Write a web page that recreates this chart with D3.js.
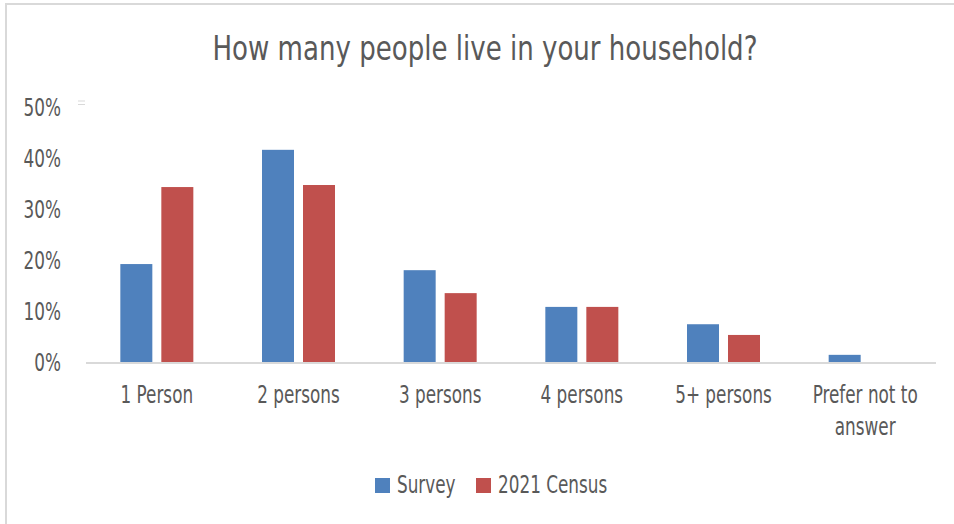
<!DOCTYPE html>
<html>
<head>
<meta charset="utf-8">
<script src="https://cdn.jsdelivr.net/npm/d3@7"></script>
<style>
  html, body { margin: 0; padding: 0; background: #fff; }
  svg text { font-family: "DejaVu Sans Condensed", "DejaVu Sans", sans-serif; fill: #595959; }
</style>
</head>
<body>
<svg id="chart" width="954" height="524"></svg>
<script>
const categories = ["1 Person", "2 persons", "3 persons", "4 persons", "5+ persons", "Prefer not to answer"];
const seriesNames = ["Survey", "2021 Census"];
const surveyValues = [0.194, 0.418, 0.182, 0.110, 0.076, 0.016];
const censusValues = [0.345, 0.349, 0.137, 0.110, 0.055, null];
const yTicks = [0, 0.1, 0.2, 0.3, 0.4, 0.5];
const colors = ["#4F81BD", "#C0504D"];
const title = "How many people live in your household?";

const svg = d3.select("#chart");
const SX = 0.78; // horizontal squeeze to mimic condensed typeface

// chart border
svg.append("rect").attr("x", 6).attr("y", 4).attr("width", 1200).attr("height", 1200)
  .attr("fill", "none").attr("stroke", "#d9d9d9").attr("stroke-width", 2);

const plot = { left: 86, right: 936, top: 108, bottom: 363 };

const x = d3.scaleBand().domain(categories).range([plot.left, plot.right]);
const y = d3.scaleLinear().domain([0, 0.5]).range([plot.bottom, plot.top]);
const barW = 32, barGap = 9;
const xSub = d3.scaleOrdinal().domain(seriesNames).range([-(barW + barGap / 2), barGap / 2]);

const data = categories.map((c, i) => ({ cat: c, values: [surveyValues[i], censusValues[i]] }));

// title
svg.append("text").attr("x", 485).attr("y", 60).attr("text-anchor", "middle")
  .attr("textLength", 545).attr("lengthAdjust", "spacingAndGlyphs")
  .style("font-size", "34px").text(title);

// bars
const g = svg.append("g");
data.forEach(d => {
  d.values.forEach((v, si) => {
    if (v == null) return;
    g.append("rect")
      .attr("x", x(d.cat) + x.bandwidth() / 2 + xSub(seriesNames[si]))
      .attr("y", y(v))
      .attr("width", barW)
      .attr("height", y(0) - y(v))
      .attr("fill", colors[si]);
  });
});

// baseline axis
svg.append("line").attr("x1", plot.left).attr("x2", plot.right)
  .attr("y1", y(0)).attr("y2", y(0)).attr("stroke", "#d9d9d9").attr("stroke-width", 2);

// small mark near top of value axis
svg.append("line").attr("x1", 78).attr("x2", 85).attr("y1", 101).attr("y2", 101).attr("stroke", "#d9d9d9").attr("stroke-width", 1);
svg.append("line").attr("x1", 78).attr("x2", 85).attr("y1", 104.5).attr("y2", 104.5).attr("stroke", "#d9d9d9").attr("stroke-width", 1);

// y axis labels
const yAxis = d3.axisLeft(y).tickValues(yTicks).tickFormat(d3.format(".0%")).tickSize(0).tickPadding(0);
const ya = svg.append("g").attr("transform", "translate(61,0)").call(yAxis);
ya.select(".domain").remove();
ya.selectAll("text").style("font-size", "24px").attr("dy", "0.3em").attr("x", 0)
  .attr("fill", "#595959").attr("transform", `scale(${SX},1)`);

// x axis labels
const xAxis = d3.axisBottom(x).tickSize(0).tickPadding(0);
const xa = svg.append("g").attr("transform", `translate(0,${plot.bottom})`).call(xAxis);
xa.select(".domain").remove();
xa.selectAll("text").remove();
xa.selectAll(".tick").each(function(d) {
  const t = d3.select(this).append("text").attr("text-anchor", "middle").style("font-size", "24px")
    .attr("fill", "#595959").attr("transform", `scale(${SX},1)`);
  const words = d.split(" ");
  const lines = d.length > 12 ? [words.slice(0, 3).join(" "), words.slice(3).join(" ")] : [d];
  lines.forEach((ln, i) => t.append("tspan").attr("x", 0).attr("y", 40 + i * 32).text(ln));
});

// legend
const legend = svg.append("g");
const legendItems = [{ name: seriesNames[0], sx: 375, tx: 397 }, { name: seriesNames[1], sx: 476, tx: 498 }];
legendItems.forEach((it, i) => {
  legend.append("rect").attr("x", it.sx).attr("y", 478).attr("width", 15).attr("height", 15).attr("fill", colors[i]);
  legend.append("g").attr("transform", `translate(${it.tx},493) scale(${SX},1)`)
    .append("text").attr("x", 0).attr("y", 0).style("font-size", "24px").text(it.name);
});
</script>
</body>
</html>
